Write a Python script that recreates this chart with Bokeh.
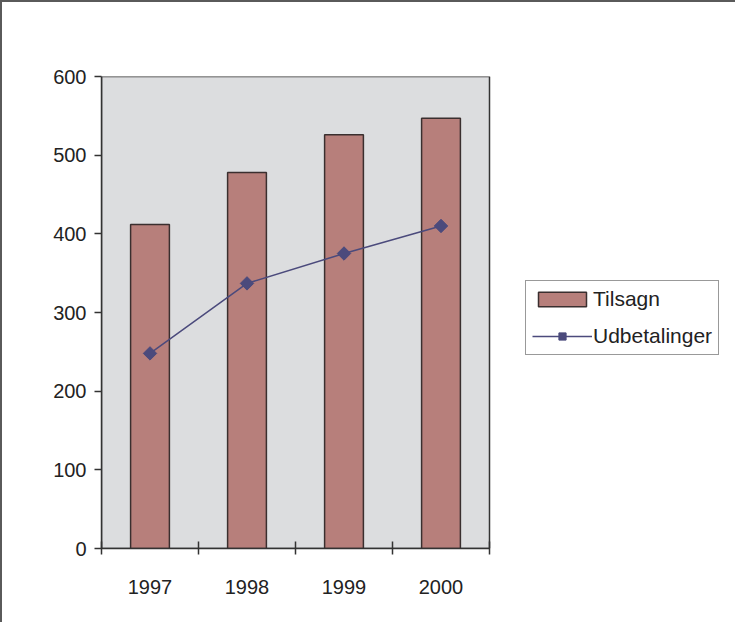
import numpy as np
from bokeh.plotting import figure
from bokeh.models import Range1d, FixedTicker, Legend, LegendItem, ColumnDataSource
from bokeh.embed import file_html
from bokeh.resources import INLINE

years = ["1997", "1998", "1999", "2000"]
tilsagn = [412, 478, 526, 547]
udbetalinger = [248, 337, 375, 410]
y_ticks = [0, 100, 200, 300, 400, 500, 600]

FONT = "Liberation Sans"
n = len(years)
pos = [i + 0.5 for i in range(n)]
src = ColumnDataSource(dict(x=pos, year=years, tilsagn=tilsagn, udb=udbetalinger))

W, H = 735, 622
LEFT, TOP, BOTTOM = 99, 74, 76
AREA_W = 388                       # pixel width of the category area
frame_w = W - LEFT
x_end = n * frame_w / AREA_W       # frame extends to the right to hold the legend

p = figure(width=W, height=H, output_backend="svg", toolbar_location=None,
           x_range=Range1d(0, x_end), y_range=Range1d(y_ticks[0], y_ticks[-1]),
           min_border_left=LEFT, min_border_right=0, min_border_top=TOP,
           min_border_bottom=BOTTOM)
p.styles = {"border-left": "2px solid #5a5a5a", "border-top": "2px solid #5a5a5a"}
p.background_fill_color = "white"
p.border_fill_color = "white"
p.outline_line_color = None
p.grid.visible = False

# plot area (category span x value span)
p.quad(left=0, right=n, bottom=y_ticks[0], top=y_ticks[-1],
       fill_color="#dcdddf", line_color="#333333", line_width=1.5)

bars = p.vbar(x="x", top="tilsagn", width=0.4, source=src,
              fill_color="#b77f7b", line_color="#3a2f2f", line_width=1.5)
line = p.line(x="x", y="udb", source=src, line_color="#4b4a7c", line_width=1.5)
marks = p.scatter(x="x", y="udb", source=src, marker="square", angle=np.pi / 4,
                  size=9.5, fill_color="#4b4a7c", line_color="#4b4a7c")

xa = p.xaxis[0]
xa.bounds = (0, n)
xa.ticker = FixedTicker(ticks=pos, minor_ticks=list(range(n + 1)))
xa.major_label_overrides = {v: y for v, y in zip(pos, years)}
xa.major_tick_line_color = None
xa.major_tick_in = 0
xa.major_tick_out = 0
xa.minor_tick_in = 7
xa.minor_tick_out = 6
xa.minor_tick_line_color = "#333333"
xa.minor_tick_line_width = 1.5
xa.axis_line_color = "#333333"
xa.axis_line_width = 1.5
xa.major_label_standoff = 25
xa.major_label_text_font = FONT
xa.major_label_text_font_size = "20px"
xa.major_label_text_color = "#222222"

ya = p.yaxis[0]
ya.ticker = FixedTicker(ticks=y_ticks, minor_ticks=[])
ya.major_tick_in = 0
ya.major_tick_out = 7
ya.major_tick_line_color = "#333333"
ya.major_tick_line_width = 1.5
ya.axis_line_color = "#333333"
ya.axis_line_width = 1.5
ya.major_label_standoff = 8
ya.major_label_text_font = FONT
ya.major_label_text_font_size = "20px"
ya.major_label_text_color = "#222222"

legend = Legend(items=[LegendItem(label="Tilsagn", renderers=[bars]),
                       LegendItem(label="Udbetalinger", renderers=[line, marks])],
                location=(424, 193), orientation="vertical",
                padding=6, spacing=13, margin=0,
                glyph_width=60, glyph_height=18, label_height=20, label_standoff=1,
                label_text_font=FONT, label_text_font_size="21px",
                label_text_color="#222222",
                border_line_color="#333333", border_line_width=1,
                background_fill_color="white", background_fill_alpha=1)
p.add_layout(legend, "center")

open("out.html", "w").write(file_html(p, INLINE))
